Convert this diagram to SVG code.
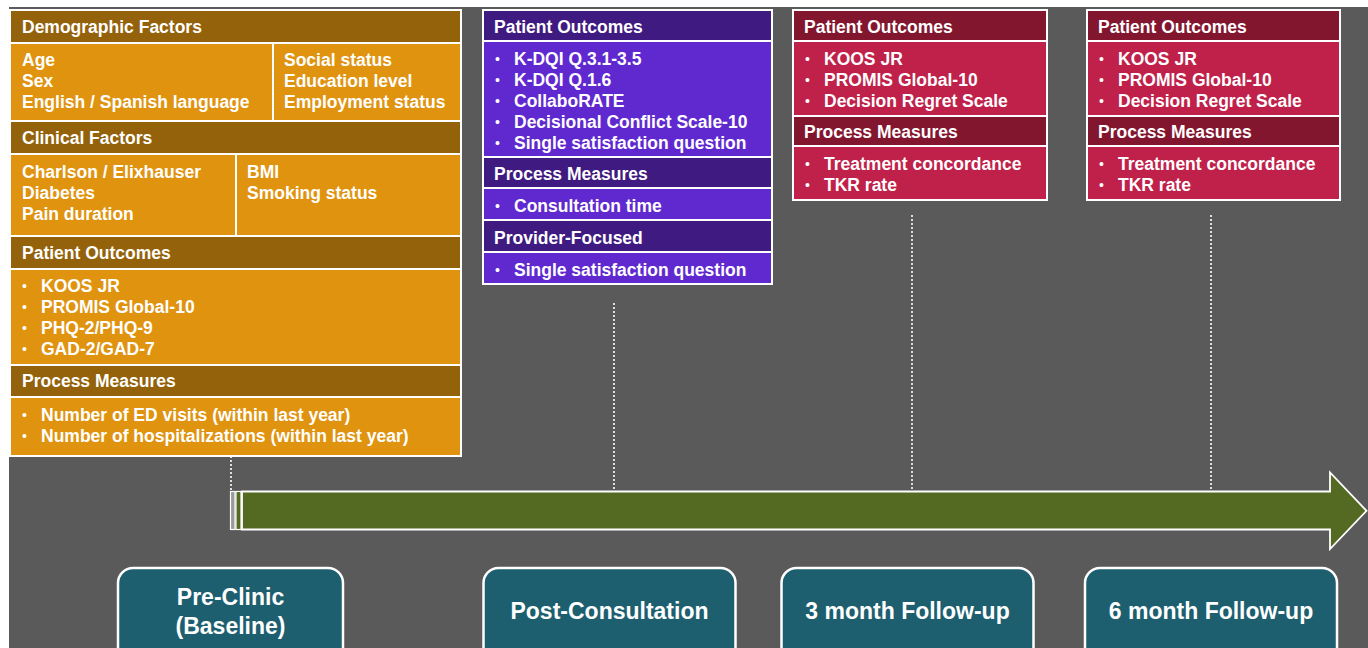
<svg xmlns="http://www.w3.org/2000/svg" width="1368" height="648" viewBox="0 0 1368 648">
<style>
text{font-family:"Liberation Sans",Arial,sans-serif;font-weight:bold;fill:#ffffff;font-size:17.5px}
text.b{font-weight:normal;font-size:14px}
.c{stroke:#ffffff;stroke-width:2}
.oh{fill:#94620A}.oc{fill:#E0930F}
.ph{fill:#3F1A80}.pc{fill:#6029D0}
.rh{fill:#83162F}.rc{fill:#C0214A}
.stage{fill:#1D5F6F;stroke:#ffffff;stroke-width:2.5}
.st{font-size:23px;text-anchor:middle}
.dot{stroke:#ffffff;stroke-width:1.6;stroke-dasharray:2 2;fill:none}
</style>
<rect x="0" y="0" width="1368" height="648" fill="#ffffff"/>
<rect x="9" y="7" width="1359" height="641" fill="#5A5A5A"/>

<g id="connectors">
<line class="dot" x1="231" y1="456" x2="231" y2="491"/>
<line class="dot" x1="614" y1="303" x2="614" y2="491"/>
<line class="dot" x1="912" y1="215" x2="912" y2="491"/>
<line class="dot" x1="1211" y1="215" x2="1211" y2="491"/>
</g>

<g id="timeline-arrow">
<rect x="230.5" y="491.5" width="4.5" height="38" fill="#9a9a9a" stroke="#ffffff" stroke-width="1.2"/>
<rect x="236" y="491.5" width="5" height="38" fill="#546A22" stroke="#ffffff" stroke-width="1.2"/>
<path d="M242,491.5 H1330 V472.5 L1366.5,510.8 L1330,549 V529.5 H242 Z" fill="#546A22" stroke="#ffffff" stroke-width="1.8"/>
</g>

<g id="baseline-box">
<rect class="c oh" x="10" y="10" width="451" height="33"/>
<rect class="c oc" x="10" y="43" width="263" height="78"/>
<rect class="c oc" x="273" y="43" width="188" height="78"/>
<rect class="c oh" x="10" y="121" width="451" height="33"/>
<rect class="c oc" x="10" y="154" width="226" height="82"/>
<rect class="c oc" x="236" y="154" width="225" height="82"/>
<rect class="c oh" x="10" y="236" width="451" height="33"/>
<rect class="c oc" x="10" y="269" width="451" height="96"/>
<rect class="c oh" x="10" y="365" width="451" height="32"/>
<rect class="c oc" x="10" y="397" width="451" height="59"/>
<text x="22" y="33">Demographic Factors</text>
<text x="22" y="66">Age</text>
<text x="22" y="87">Sex</text>
<text x="22" y="108">English / Spanish language</text>
<text x="284" y="66">Social status</text>
<text x="284" y="87">Education level</text>
<text x="284" y="108">Employment status</text>
<text x="22" y="144">Clinical Factors</text>
<text x="22" y="178">Charlson / Elixhauser</text>
<text x="22" y="199">Diabetes</text>
<text x="22" y="220">Pain duration</text>
<text x="247" y="178">BMI</text>
<text x="247" y="199">Smoking status</text>
<text x="22" y="259">Patient Outcomes</text>
<text class="b" x="22" y="291">•</text><text x="41" y="292">KOOS JR</text>
<text class="b" x="22" y="312">•</text><text x="41" y="313">PROMIS Global-10</text>
<text class="b" x="22" y="333">•</text><text x="41" y="334">PHQ-2/PHQ-9</text>
<text class="b" x="22" y="354">•</text><text x="41" y="355">GAD-2/GAD-7</text>
<text x="22" y="387">Process Measures</text>
<text class="b" x="22" y="420">•</text><text x="41" y="421">Number of ED visits (within last year)</text>
<text class="b" x="22" y="441">•</text><text x="41" y="442">Number of hospitalizations (within last year)</text>
</g>

<g id="post-consultation-box">
<rect class="c ph" x="483" y="10" width="289" height="31"/>
<rect class="c pc" x="483" y="41" width="289" height="116"/>
<rect class="c ph" x="483" y="157" width="289" height="31"/>
<rect class="c pc" x="483" y="188" width="289" height="32"/>
<rect class="c ph" x="483" y="220" width="289" height="32"/>
<rect class="c pc" x="483" y="252" width="289" height="32"/>
<text x="494" y="32.5">Patient Outcomes</text>
<text class="b" x="495" y="63.5">•</text><text x="514" y="64.5">K-DQI Q.3.1-3.5</text>
<text class="b" x="495" y="84.5">•</text><text x="514" y="85.5">K-DQI Q.1.6</text>
<text class="b" x="495" y="105.5">•</text><text x="514" y="106.5">CollaboRATE</text>
<text class="b" x="495" y="126.5">•</text><text x="514" y="127.5">Decisional Conflict Scale-10</text>
<text class="b" x="495" y="147.5">•</text><text x="514" y="148.5">Single satisfaction question</text>
<text x="494" y="180">Process Measures</text>
<text class="b" x="495" y="211">•</text><text x="514" y="212">Consultation time</text>
<text x="494" y="243.5">Provider-Focused</text>
<text class="b" x="495" y="274.5">•</text><text x="514" y="275.5">Single satisfaction question</text>
</g>

<g id="three-month-box">
<rect class="c rh" x="793" y="10" width="254" height="31"/>
<rect class="c rc" x="793" y="41" width="254" height="75"/>
<rect class="c rh" x="793" y="116" width="254" height="30"/>
<rect class="c rc" x="793" y="146" width="254" height="54"/>
<text x="804" y="33">Patient Outcomes</text>
<text class="b" x="805" y="64">•</text><text x="824" y="65">KOOS JR</text>
<text class="b" x="805" y="85">•</text><text x="824" y="86">PROMIS Global-10</text>
<text class="b" x="805" y="106">•</text><text x="824" y="107">Decision Regret Scale</text>
<text x="804" y="138">Process Measures</text>
<text class="b" x="805" y="169">•</text><text x="824" y="170">Treatment concordance</text>
<text class="b" x="805" y="190">•</text><text x="824" y="191">TKR rate</text>
</g>

<g id="six-month-box">
<rect class="c rh" x="1087" y="10" width="253" height="31"/>
<rect class="c rc" x="1087" y="41" width="253" height="75"/>
<rect class="c rh" x="1087" y="116" width="253" height="30"/>
<rect class="c rc" x="1087" y="146" width="253" height="54"/>
<text x="1098" y="33">Patient Outcomes</text>
<text class="b" x="1099" y="64">•</text><text x="1118" y="65">KOOS JR</text>
<text class="b" x="1099" y="85">•</text><text x="1118" y="86">PROMIS Global-10</text>
<text class="b" x="1099" y="106">•</text><text x="1118" y="107">Decision Regret Scale</text>
<text x="1098" y="138">Process Measures</text>
<text class="b" x="1099" y="169">•</text><text x="1118" y="170">Treatment concordance</text>
<text class="b" x="1099" y="190">•</text><text x="1118" y="191">TKR rate</text>
</g>

<g id="stage-pre-clinic">
<rect class="stage" x="118" y="568" width="225" height="100" rx="15"/>
<text class="st" x="230.5" y="605">Pre-Clinic</text>
<text class="st" x="230.5" y="634">(Baseline)</text>
</g>
<g id="stage-post-consultation">
<rect class="stage" x="483.5" y="568" width="252" height="100" rx="15"/>
<text class="st" x="609.5" y="619">Post-Consultation</text>
</g>
<g id="stage-3-month">
<rect class="stage" x="781.5" y="568" width="252" height="100" rx="15"/>
<text class="st" x="907.5" y="619">3 month Follow-up</text>
</g>
<g id="stage-6-month">
<rect class="stage" x="1085" y="568" width="252" height="100" rx="15"/>
<text class="st" x="1211" y="619">6 month Follow-up</text>
</g>
</svg>
